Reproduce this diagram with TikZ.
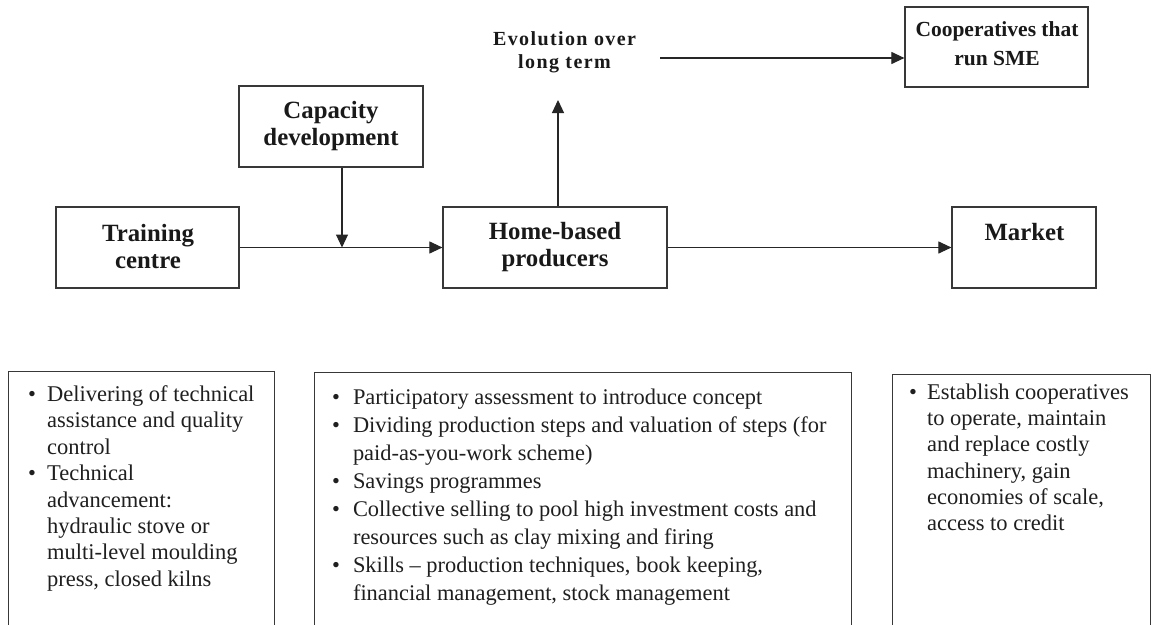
\documentclass[tikz,border=0pt]{standalone}
\usepackage{fontspec}
\setmainfont{Liberation Serif}
\newfontfamily\evfont{Liberation Serif}[LetterSpace=7]
\usetikzlibrary{arrows.meta,calc}
\tikzset{
  box/.style={draw=black!78, line width=1.2pt, rectangle, inner sep=0pt},
  ttl/.style={inner sep=0pt, anchor=base, text=black!90, font=\fontsize{24.8}{27}\selectfont\bfseries},
  evt/.style={inner sep=0pt, anchor=base, text=black!90, font=\evfont\fontsize{20}{23}\selectfont\bfseries},
  body/.style={inner sep=0pt, anchor=base west, text=black!88},
  arr/.style={draw=black!85, line width=1.1pt, -{Triangle[length=13pt,width=12pt]}},
}
\begin{document}
\begin{tikzpicture}[x=1pt,y=-1pt]
\clip (0,0) rectangle (1151,624);
\fill[white] (0,0) rectangle (1151,624);
% top boxes
\node[box, minimum width=183pt, minimum height=81pt] (tc) at (147.5,247.5) {};
\node[box, minimum width=184pt, minimum height=81pt] (cap) at (331,126.5) {};
\node[box, minimum width=224pt, minimum height=81pt] (hb) at (555,247.5) {};
\node[box, minimum width=144pt, minimum height=81pt] (mk) at (1024,247.5) {};
\node[box, minimum width=183pt, minimum height=80pt] (co) at (996.5,47) {};
% titles
\node[ttl] (tct) at (148,241) {\begin{tabular}[t]{@{}c@{}}Training\\centre\end{tabular}};
\node[ttl] (capt) at (331,118) {\begin{tabular}[t]{@{}c@{}}Capacity\\development\end{tabular}};
\node[ttl] (hbt) at (555,239.5) {\begin{tabular}[t]{@{}c@{}}Home-based\\producers\end{tabular}};
\node[ttl] (mkt) at (1024.5,240) {Market};
\node[ttl, font=\fontsize{21.5}{28.5}\selectfont\bfseries] (cot) at (997,36.5) {\begin{tabular}[t]{@{}c@{}}Cooperatives that\\run SME\end{tabular}};
\node[evt] (ev) at (564.5,45) {\begin{tabular}[t]{@{}c@{}}Evolution over\\long term\end{tabular}};
% connectors
\coordinate (j) at (342,247.5);
\coordinate (up) at (558,100);
\coordinate (es) at (660,58);
\draw[arr] (tc.east) -- (hb.west);
\draw[arr] (cap.south -| j) -- (j);
\draw[arr] (hb.north -| up) -- (up);
\draw[arr] (es) -- (es -| co.west);
\draw[arr] (hb.east) -- (mk.west);
% bottom boxes
\node[box, minimum width=266pt, minimum height=290pt, anchor=north west] (lb) at (8,371) {};
\node[box, minimum width=537pt, minimum height=290pt, anchor=north west] (mb) at (314,372) {};
\node[box, minimum width=258pt, minimum height=290pt, anchor=north west] (rb) at (892,374) {};
\node[body, font=\fontsize{22.5}{26.4}\selectfont] (lbt) at (28,401.5) {\begin{tabular}[t]{@{}l@{\hspace{11pt}}l@{}}
\textbullet & Delivering of technical\\
 & assistance and quality\\
 & control\\
\textbullet & Technical\\
 & advancement:\\
 & hydraulic stove or\\
 & multi-level moulding\\
 & press, closed kilns
\end{tabular}};
\node[body, font=\fontsize{22.4}{28}\selectfont] (mbt) at (332,404) {\begin{tabular}[t]{@{}l@{\hspace{13pt}}l@{}}
\textbullet & Participatory assessment to introduce concept\\
\textbullet & Dividing production steps and valuation of steps (for\\
 & paid-as-you-work scheme)\\
\textbullet & Savings programmes\\
\textbullet & Collective selling to pool high investment costs and\\
 & resources such as clay mixing and firing\\
\textbullet & Skills -- production techniques, book keeping,\\
 & financial management, stock management
\end{tabular}};
\node[body, font=\fontsize{22.5}{26.2}\selectfont] (rbt) at (909,399.5) {\begin{tabular}[t]{@{}l@{\hspace{10pt}}l@{}}
\textbullet & Establish cooperatives\\
 & to operate, maintain\\
 & and replace costly\\
 & machinery, gain\\
 & economies of scale,\\
 & access to credit
\end{tabular}};
\end{tikzpicture}
\end{document}
